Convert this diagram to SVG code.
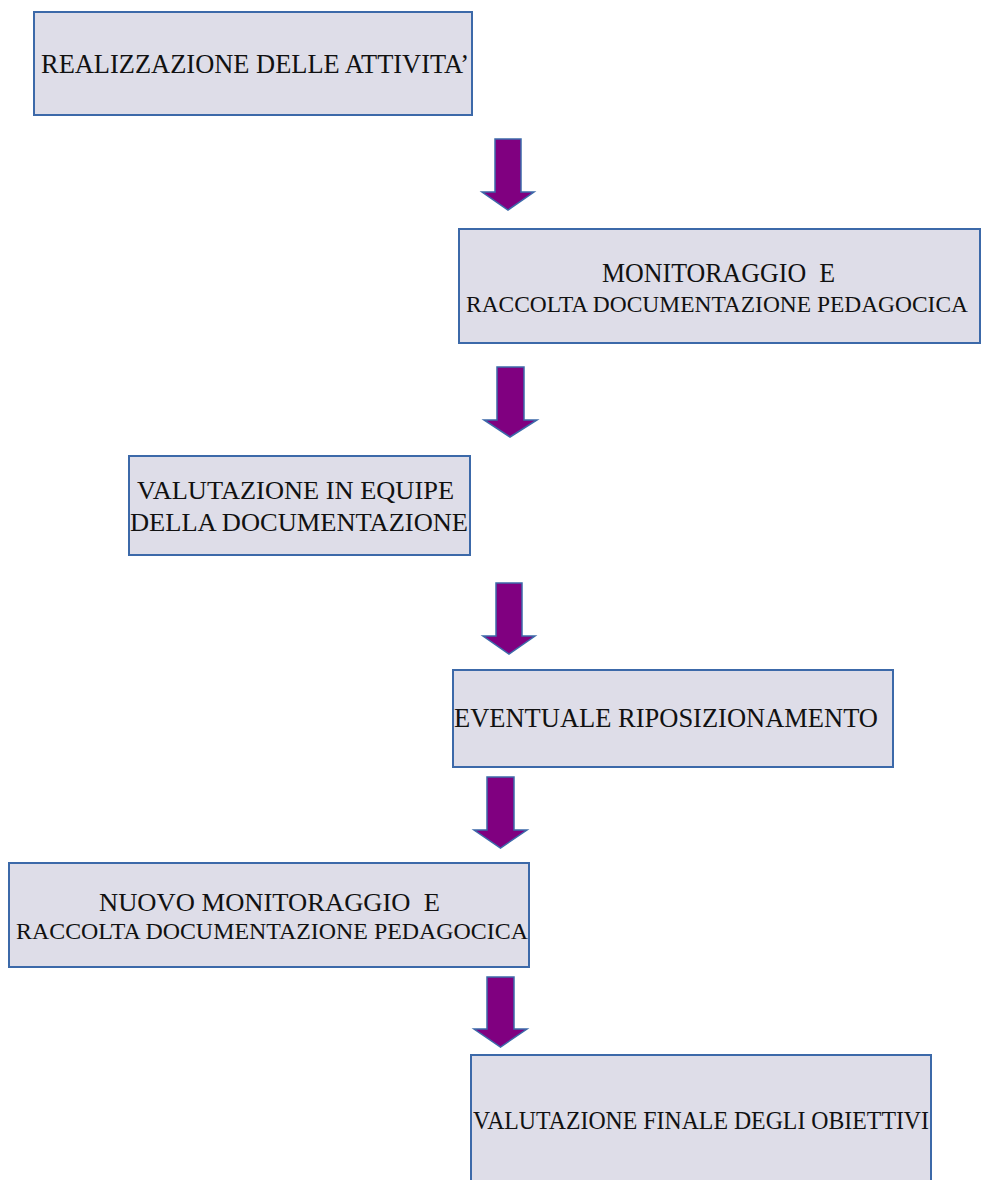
<svg xmlns="http://www.w3.org/2000/svg" width="981" height="1180" viewBox="0 0 981 1180">
<style>
.box{fill:#dedde8;stroke:#3c69a9;stroke-width:2}
.arr{fill:#800080;stroke:#3c69a9;stroke-width:1.5;stroke-linejoin:miter}
text{font-family:"Liberation Serif","Times New Roman",serif;fill:#111;white-space:pre}
</style>
<rect width="981" height="1180" fill="#ffffff"/>
<g id="n1">
<rect class="box" x="34" y="12" width="438" height="103"/>
<text x="41" y="73" font-size="27" textLength="428" lengthAdjust="spacingAndGlyphs">REALIZZAZIONE DELLE ATTIVITA’</text>
</g>
<g id="n2">
<rect class="box" x="459" y="229" width="521" height="114"/>
<text x="602" y="282" font-size="27" textLength="233" lengthAdjust="spacingAndGlyphs" xml:space="preserve">MONITORAGGIO  E</text>
<text x="466" y="312" font-size="23" textLength="502" lengthAdjust="spacingAndGlyphs">RACCOLTA DOCUMENTAZIONE PEDAGOCICA</text>
</g>
<g id="n3">
<rect class="box" x="129" y="456" width="341" height="99"/>
<text x="137" y="499" font-size="26" textLength="317" lengthAdjust="spacingAndGlyphs">VALUTAZIONE IN EQUIPE</text>
<text x="130" y="531" font-size="26" textLength="338" lengthAdjust="spacingAndGlyphs">DELLA DOCUMENTAZIONE</text>
</g>
<g id="n4">
<rect class="box" x="453" y="670" width="440" height="97"/>
<text x="454" y="727" font-size="28" textLength="424" lengthAdjust="spacingAndGlyphs">EVENTUALE RIPOSIZIONAMENTO</text>
</g>
<g id="n5">
<rect class="box" x="9" y="863" width="520" height="104"/>
<text x="99" y="911" font-size="26" textLength="341" lengthAdjust="spacingAndGlyphs" xml:space="preserve">NUOVO MONITORAGGIO  E</text>
<text x="16" y="939" font-size="23" textLength="512" lengthAdjust="spacingAndGlyphs">RACCOLTA DOCUMENTAZIONE PEDAGOCICA</text>
</g>
<g id="n6">
<rect class="box" x="471" y="1055" width="460" height="140"/>
<text x="473" y="1129" font-size="25" textLength="456" lengthAdjust="spacingAndGlyphs">VALUTAZIONE FINALE DEGLI OBIETTIVI</text>
</g>
<g id="connectors">
<polygon class="arr" points="495,139 521,139 521,192 534,192 508,210 482,192 495,192"/>
<polygon class="arr" points="497,367 524,367 524,420 537,420 510,437 484,420 497,420"/>
<polygon class="arr" points="496,583 522,583 522,636 535,636 509,654 483,636 496,636"/>
<polygon class="arr" points="487,777 514,777 514,830 527,830 500.5,848 474,830 487,830"/>
<polygon class="arr" points="487,977 514,977 514,1029 527,1029 500.5,1047 474,1029 487,1029"/>
</g>
</svg>
